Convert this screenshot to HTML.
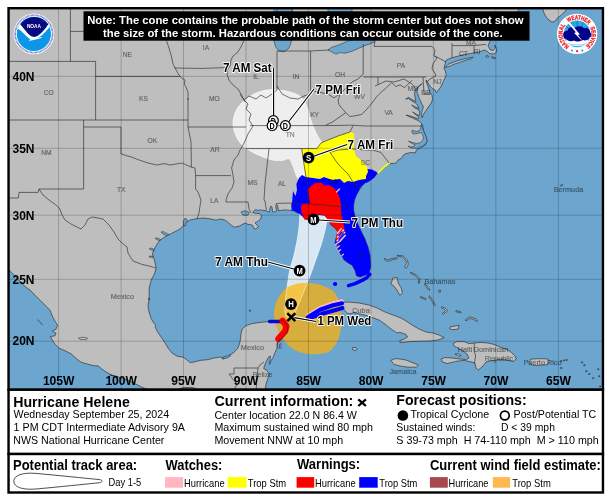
<!DOCTYPE html><html><head><meta charset="utf-8"><title>Hurricane Helene</title>
<style>html,body{margin:0;padding:0;background:#fff}svg{display:block;will-change:transform}text{font-family:"Liberation Sans",sans-serif}</style></head><body>
<svg width="610" height="501" viewBox="0 0 610 501">
<rect width="610" height="501" fill="#fff"/>
<defs><clipPath id="mapclip"><rect x="8.5" y="8.2" width="594.4" height="381.5"/></clipPath></defs>
<g clip-path="url(#mapclip)">
<rect x="8" y="8" width="596" height="383" fill="#6ca5ce"/>
<path d="M6.0 6.0 L521.0 6.0 L516.0 14.0 L507.0 23.0 L499.0 31.0 L493.0 37.0 L489.5 42.0 L488.0 46.0 L490.0 49.5 L493.0 50.5 L495.3 48.3 L494.8 45.2 L496.6 48.5 L496.3 52.5 L493.5 54.0 L489.5 53.5 L487.5 51.5 L485.0 50.3 L484.0 50.0 L481.0 51.2 L478.0 52.4 L472.0 53.2 L466.0 54.2 L460.0 55.6 L454.0 57.2 L449.0 58.8 L446.0 60.4 L445.2 63.6 L444.4 66.4 L444.0 69.0 L445.2 70.4 L446.2 75.0 L444.4 79.0 L443.0 82.4 L440.4 87.6 L436.4 92.6 L435.9 92.2 L435.3 90.1 L432.3 88.5 L429.9 86.1 L427.8 82.6 L426.4 80.0 L426.0 81.0 L427.3 84.4 L428.5 87.9 L429.9 92.7 L432.1 95.4 L432.5 99.9 L430.6 104.1 L428.2 107.1 L425.8 110.7 L423.4 114.3 L422.0 117.6 L421.5 114.3 L422.2 110.7 L423.4 107.1 L422.2 104.7 L421.1 102.3 L419.4 98.7 L418.2 95.1 L417.0 91.5 L417.9 87.9 L419.4 85.6 L422.2 83.5 L421.1 84.7 L418.9 86.1 L416.3 88.3 L415.1 90.6 L414.5 93.9 L415.3 98.7 L416.0 101.6 L412.0 99.5 L408.4 97.4 L405.7 99.1 L408.6 98.6 L412.0 101.0 L416.7 104.0 L417.9 105.9 L418.8 108.5 L414.4 106.4 L411.7 105.0 L414.6 107.8 L419.1 110.2 L419.7 113.1 L419.1 115.8 L414.4 112.9 L412.7 111.9 L414.8 114.1 L418.9 117.1 L418.2 119.0 L412.0 116.5 L406.0 115.1 L412.0 117.7 L419.1 121.0 L419.9 121.8 L422.2 124.4 L422.6 126.0 L424.0 132.0 L426.0 137.0 L427.2 141.0 L425.2 145.0 L420.4 148.0 L416.4 150.0 L415.2 153.0 L411.2 152.4 L406.0 153.6 L403.2 155.2 L401.2 158.4 L398.0 160.2 L396.0 163.2 L390.0 163.6 L385.2 166.2 L381.2 170.0 L378.0 173.2 L374.0 177.0 L370.0 180.0 L366.0 182.4 L366.0 182.2 L360.1 187.6 L359.3 190.0 L356.5 195.0 L354.5 200.0 L353.6 205.0 L353.6 210.0 L354.6 215.0 L357.4 223.0 L361.0 231.0 L365.0 239.0 L368.0 247.0 L370.0 255.0 L370.6 263.0 L370.6 267.0 L369.8 270.4 L368.6 273.6 L365.0 275.2 L360.2 277.0 L356.6 276.0 L355.0 270.4 L352.2 265.2 L348.2 263.0 L344.2 260.0 L343.5 259.0 L342.0 256.0 L340.0 253.0 L339.0 250.0 L336.5 248.0 L337.5 245.0 L335.0 244.0 L335.5 240.0 L337.0 235.0 L337.5 231.5 L335.0 228.0 L331.0 225.0 L328.0 219.5 L324.5 215.5 L316.6 214.8 L309.7 219.4 L304.8 219.6 L303.5 217.4 L299.8 213.9 L293.5 210.8 L288.5 210.2 L284.7 209.9 L280.1 210.5 L278.4 210.6 L277.8 206.5 L276.4 203.8 L275.7 206.5 L276.7 211.0 L273.2 212.2 L272.6 212.0 L272.1 207.6 L270.9 205.9 L270.0 208.2 L269.5 212.2 L265.2 210.6 L261.7 210.2 L259.4 209.9 L257.7 210.6 L256.0 209.4 L254.3 210.5 L252.6 212.2 L255.0 213.3 L259.4 213.5 L261.7 215.7 L260.6 219.0 L257.5 221.5 L255.0 223.0 L257.0 225.0 L258.5 226.8 L255.6 229.0 L253.7 228.3 L252.6 225.4 L250.5 224.6 L248.0 224.4 L245.2 223.0 L242.0 224.6 L239.2 226.2 L234.4 227.2 L231.2 225.2 L228.0 222.4 L224.4 219.8 L220.0 219.0 L216.0 220.2 L210.0 218.8 L203.2 218.0 L197.2 218.6 L190.0 220.0 L187.2 222.0 L185.6 219.2 L184.0 220.0 L184.8 221.6 L183.0 226.6 L178.0 230.2 L172.0 233.2 L166.0 236.2 L160.0 240.2 L157.0 244.2 L154.2 249.2 L152.4 254.0 L154.4 260.0 L156.2 268.0 L154.4 274.0 L151.2 280.0 L149.2 288.0 L149.0 300.0 L149.2 298.0 L148.0 306.0 L149.0 312.0 L151.0 318.0 L153.0 322.0 L155.6 325.2 L155.2 327.2 L157.2 331.2 L161.2 337.2 L165.2 343.2 L168.2 348.2 L172.2 353.2 L177.2 356.2 L183.2 357.2 L187.2 360.2 L190.2 362.6 L194.2 362.0 L200.2 360.4 L208.2 359.6 L214.2 358.0 L220.2 357.0 L223.2 359.2 L227.2 357.0 L232.0 353.6 L234.0 352.4 L238.0 348.0 L240.0 342.0 L241.0 334.0 L242.2 329.0 L246.0 325.6 L252.0 323.6 L260.0 322.4 L268.0 321.6 L276.0 321.0 L282.0 320.0 L286.0 323.0 L288.0 327.2 L287.0 332.0 L284.0 336.2 L280.0 340.0 L277.2 343.0 L277.2 348.0 L275.2 352.2 L273.2 357.2 L271.2 360.4 L269.6 364.4 L270.4 356.0 L268.4 357.2 L266.0 362.0 L263.6 368.4 L266.8 370.4 L269.0 373.2 L268.0 378.2 L266.0 384.2 L264.8 392.0 L264.0 396.0 L196.0 396.0 L196.0 388.5 L192.0 387.5 L184.0 387.5 L180.0 388.5 L180.0 396.0 L147.0 396.0 L147.0 389.2 L142.0 387.2 L136.0 384.2 L130.0 381.2 L122.0 378.2 L116.0 376.2 L110.0 375.0 L118.0 377.2 L112.0 375.2 L107.0 372.6 L102.0 369.2 L98.0 365.8 L94.0 365.8 L88.0 364.2 L81.0 362.2 L77.0 359.2 L71.0 353.8 L66.0 351.2 L59.0 348.2 L55.0 344.2 L52.4 340.2 L50.4 336.6 L55.0 335.8 L56.0 333.2 L52.4 331.2 L56.0 329.2 L57.6 325.2 L55.0 321.2 L52.4 316.2 L50.0 310.2 L46.0 306.2 L41.0 301.2 L35.0 295.2 L30.0 290.0 L27.0 288.0 L22.0 284.0 L17.0 278.0 L12.0 273.2 L9.0 270.0 L6.0 268.0 L6.0 6.0Z" fill="#bebebe" stroke="#222" stroke-width="0.6" stroke-linejoin="round"/>
<path d="M542.0 6.0 L543.6 12.0 L545.2 15.6 L548.0 19.2 L552.0 22.2 L555.2 21.2 L557.2 18.2 L561.2 15.2 L565.2 11.2 L567.6 6.0Z" fill="#bebebe" stroke="#222" stroke-width="0.6" stroke-linejoin="round"/>
<path d="M445.0 67.4 L448.0 64.4 L456.0 61.2 L466.0 58.4 L473.2 57.2 L471.6 58.6 L466.0 60.2 L458.4 62.8 L454.0 64.2 L449.0 66.6Z" fill="#bebebe" stroke="#222" stroke-width="0.6" stroke-linejoin="round"/>
<path d="M485.6 56.0 L488.0 55.6 L488.8 56.8 L486.4 57.4Z" fill="#bebebe" stroke="#222" stroke-width="0.6" stroke-linejoin="round"/>
<path d="M491.6 56.8 L495.2 57.6 L495.6 58.6 L492.0 58.0Z" fill="#bebebe" stroke="#222" stroke-width="0.6" stroke-linejoin="round"/>
<path d="M310.0 314.4 L317.0 311.0 L325.0 308.0 L333.0 305.2 L341.0 302.6 L349.0 302.0 L359.0 303.0 L369.0 305.0 L377.0 308.0 L385.0 312.0 L393.0 315.0 L401.0 318.0 L406.0 321.0 L412.0 325.0 L419.0 329.0 L426.0 332.0 L433.0 333.0 L439.0 335.0 L444.2 337.6 L438.0 340.0 L430.0 341.0 L420.0 341.2 L410.0 341.6 L400.0 342.6 L400.0 340.4 L403.0 339.6 L407.6 337.0 L406.0 334.4 L400.0 332.4 L397.0 333.0 L391.0 329.0 L385.0 324.0 L379.0 320.0 L371.0 317.0 L365.0 315.0 L359.0 314.0 L354.0 312.4 L350.6 313.6 L348.0 313.6 L345.0 311.0 L343.4 308.8 L342.2 308.0 L335.0 309.6 L329.0 311.2 L322.0 313.2 L316.0 314.4Z" fill="#bebebe" stroke="#222" stroke-width="0.6" stroke-linejoin="round"/>
<path d="M352.0 348.0 L355.0 347.4 L357.4 348.6 L356.0 350.4 L353.0 350.0Z" fill="#bebebe" stroke="#222" stroke-width="0.6" stroke-linejoin="round"/>
<path d="M390.8 360.4 L395.0 358.6 L400.0 359.0 L406.0 360.0 L412.0 362.4 L418.4 365.0 L416.4 367.2 L408.0 367.2 L400.0 366.0 L394.0 364.4Z" fill="#bebebe" stroke="#222" stroke-width="0.6" stroke-linejoin="round"/>
<path d="M453.0 343.6 L457.0 341.6 L464.0 341.6 L469.0 343.6 L475.0 343.0 L480.0 342.4 L488.0 343.0 L494.0 344.4 L500.0 347.0 L506.0 349.0 L511.0 352.0 L515.0 356.0 L516.2 359.0 L513.2 361.6 L508.0 360.4 L502.0 359.0 L496.0 360.0 L490.0 361.0 L486.0 362.0 L482.0 367.0 L478.2 370.0 L476.0 368.0 L475.0 363.0 L470.0 361.6 L464.0 360.4 L458.0 361.0 L452.0 362.4 L447.0 363.6 L442.0 361.6 L441.0 359.0 L445.0 357.6 L452.0 358.0 L460.0 359.0 L466.0 359.6 L469.0 358.0 L467.0 354.0 L463.0 351.0 L458.0 348.0 L454.0 346.0Z" fill="#bebebe" stroke="#222" stroke-width="0.6" stroke-linejoin="round"/>
<path d="M455.0 354.0 L458.0 353.6 L461.2 355.6 L459.0 356.4Z" fill="#bebebe" stroke="#222" stroke-width="0.6" stroke-linejoin="round"/>
<path d="M530.4 359.2 L539.0 358.6 L548.0 359.0 L549.2 361.6 L547.2 364.8 L538.0 365.4 L531.2 365.0 L529.8 362.0Z" fill="#bebebe" stroke="#222" stroke-width="0.6" stroke-linejoin="round"/>
<path d="M384.0 258.4 L388.0 260.0 L392.0 258.4 L397.2 257.8 L396.8 258.8 L392.4 259.6 L388.4 261.2 L386.0 261.0Z" fill="#bebebe" stroke="#222" stroke-width="0.6" stroke-linejoin="round"/>
<path d="M397.0 255.4 L403.0 255.8 L407.2 260.0 L408.4 264.0 L406.4 268.2 L404.4 267.2 L406.6 263.6 L405.8 260.4 L402.4 257.0 L397.6 256.2Z" fill="#bebebe" stroke="#222" stroke-width="0.6" stroke-linejoin="round"/>
<path d="M393.0 278.0 L397.2 277.6 L398.2 283.0 L401.2 288.0 L402.4 293.2 L399.8 295.2 L397.0 290.0 L394.0 286.2 L390.8 284.0 L392.0 281.0Z" fill="#bebebe" stroke="#222" stroke-width="0.6" stroke-linejoin="round"/>
<path d="M410.8 272.2 L416.0 274.8 L420.0 279.0 L419.2 283.4 L418.2 283.2 L418.8 279.4 L415.4 275.8 L410.4 273.0Z" fill="#bebebe" stroke="#222" stroke-width="0.6" stroke-linejoin="round"/>
<path d="M424.8 283.4 L428.2 287.6 L430.0 290.0 L429.0 290.4 L427.0 288.0 L424.2 284.0Z" fill="#bebebe" stroke="#222" stroke-width="0.6" stroke-linejoin="round"/>
<path d="M429.6 295.8 L433.2 300.8 L435.4 305.2 L434.4 305.6 L432.0 301.2 L428.8 296.4Z" fill="#bebebe" stroke="#222" stroke-width="0.6" stroke-linejoin="round"/>
<path d="M420.6 296.6 L426.0 298.6 L425.6 299.6 L420.4 297.6Z" fill="#bebebe" stroke="#222" stroke-width="0.6" stroke-linejoin="round"/>
<path d="M441.6 306.6 L446.0 308.6 L447.6 310.8 L443.2 314.4 L442.2 313.6 L445.6 310.8 L444.0 309.0 L441.2 307.6Z" fill="#bebebe" stroke="#222" stroke-width="0.6" stroke-linejoin="round"/>
<path d="M456.0 310.6 L461.2 312.0 L460.8 313.0 L455.8 311.6Z" fill="#bebebe" stroke="#222" stroke-width="0.6" stroke-linejoin="round"/>
<path d="M465.0 320.0 L470.0 316.8 L476.0 318.8 L477.4 321.2 L476.0 321.0 L474.0 319.6 L470.0 318.4 L466.0 320.8Z" fill="#bebebe" stroke="#222" stroke-width="0.6" stroke-linejoin="round"/>
<path d="M450.0 327.0 L455.0 326.0 L459.2 325.4 L458.2 329.0 L452.0 329.8 L449.6 328.6Z" fill="#bebebe" stroke="#222" stroke-width="0.6" stroke-linejoin="round"/>
<path d="M438.8 290.2 L440.4 290.2 L440.4 292.0 L438.8 292.0Z" fill="#bebebe" stroke="#222" stroke-width="0.6" stroke-linejoin="round"/>
<path d="M249.3 310.2 L250.5 310.0 L250.7 311.2 L249.5 311.4Z" fill="#bebebe" stroke="#222" stroke-width="0.6" stroke-linejoin="round"/>
<path d="M279.6 344.4 L281.2 343.6 L280.8 348.0 L279.2 348.4Z" fill="#bebebe" stroke="#222" stroke-width="0.6" stroke-linejoin="round"/>
<path d="M560.2 185.6 L562.6 184.2 L563.0 184.9 L560.8 186.2Z" fill="#bebebe" stroke="#222" stroke-width="0.6" stroke-linejoin="round"/>
<path d="M560.3 360.6 L561.7 360.5 L561.8 361.4 L560.4 361.5Z" fill="#bebebe" stroke="#222" stroke-width="0.6" stroke-linejoin="round"/>
<path d="M563.3 360.0 L564.7 359.9 L564.8 360.8 L563.4 360.9Z" fill="#bebebe" stroke="#222" stroke-width="0.6" stroke-linejoin="round"/>
<path d="M565.9 359.6 L567.3 359.5 L567.4 360.4 L566.0 360.5Z" fill="#bebebe" stroke="#222" stroke-width="0.6" stroke-linejoin="round"/>
<path d="M560.5 367.6 L561.9 367.5 L562.0 368.4 L560.6 368.5Z" fill="#bebebe" stroke="#222" stroke-width="0.6" stroke-linejoin="round"/>
<path d="M581.3 362.0 L582.7 361.9 L582.8 362.8 L581.4 362.9Z" fill="#bebebe" stroke="#222" stroke-width="0.6" stroke-linejoin="round"/>
<path d="M583.7 364.8 L585.1 364.7 L585.2 365.6 L583.8 365.7Z" fill="#bebebe" stroke="#222" stroke-width="0.6" stroke-linejoin="round"/>
<path d="M585.7 370.8 L587.1 370.7 L587.2 371.6 L585.8 371.7Z" fill="#bebebe" stroke="#222" stroke-width="0.6" stroke-linejoin="round"/>
<path d="M588.5 373.6 L589.9 373.5 L590.0 374.4 L588.6 374.5Z" fill="#bebebe" stroke="#222" stroke-width="0.6" stroke-linejoin="round"/>
<path d="M592.5 377.8 L593.9 377.7 L594.0 378.6 L592.6 378.7Z" fill="#bebebe" stroke="#222" stroke-width="0.6" stroke-linejoin="round"/>
<path d="M597.5 368.8 L598.9 368.7 L599.0 369.6 L597.6 369.7Z" fill="#bebebe" stroke="#222" stroke-width="0.6" stroke-linejoin="round"/>
<path d="M598.5 375.8 L599.9 375.7 L600.0 376.6 L598.6 376.7Z" fill="#bebebe" stroke="#222" stroke-width="0.6" stroke-linejoin="round"/>
<path d="M599.5 386.0 L600.9 385.9 L601.0 386.8 L599.6 386.9Z" fill="#bebebe" stroke="#222" stroke-width="0.6" stroke-linejoin="round"/>
<path d="M274.0 4.0 L274.0 41.0 L275.6 47.0 L279.0 51.0 L284.0 51.8 L289.0 48.2 L291.6 41.0 L293.0 30.0 L292.0 4.0Z" fill="#6ca5ce" stroke="#222" stroke-width="0.5" stroke-linejoin="round"/>
<path d="M328.0 49.8 L332.0 47.2 L338.0 45.2 L348.0 41.0 L356.0 39.0 L364.0 38.0 L372.0 39.0 L375.2 41.4 L372.0 43.2 L366.0 45.2 L359.0 48.2 L352.0 51.2 L345.0 53.2 L340.0 52.6 L336.0 54.2 L333.0 52.6 L329.0 50.6Z" fill="#6ca5ce" stroke="#222" stroke-width="0.5" stroke-linejoin="round"/>
<path d="M328.0 4.0 L328.0 12.0 L352.0 12.0 L352.0 4.0Z" fill="#6ca5ce" stroke="#222" stroke-width="0.5" stroke-linejoin="round"/>
<path d="M277.0 4.0 L277.0 12.0 L292.0 12.0 L292.0 4.0Z" fill="#6ca5ce" stroke="#222" stroke-width="0.5" stroke-linejoin="round"/>
<path d="M421.6 124.5 L423.6 131.2 L426.3 137.2 L427.1 141.2 L425.5 144.0 L422.8 145.8 L419.5 147.3 L416.6 148.5 L414.5 148.2 L411.0 148.0 L408.0 146.2 L411.0 147.0 L414.0 146.5 L415.0 144.8 L412.0 143.5 L408.5 141.2 L412.5 142.5 L416.5 143.5 L419.5 143.0 L421.8 141.5 L423.0 139.5 L423.5 137.5 L422.5 134.5 L421.2 132.5 L419.0 133.0 L416.0 133.8 L413.0 134.0 L411.8 132.0 L412.2 130.2 L414.0 130.8 L416.5 131.5 L419.0 130.5 L420.5 129.0 L421.0 126.0Z" fill="#6ca5ce" stroke="#222" stroke-width="0.5" stroke-linejoin="round"/>
<path d="M241.0 212.0 L245.0 210.6 L249.2 212.4 L248.0 215.2 L243.0 215.2Z" fill="#6ca5ce" stroke="#222" stroke-width="0.5" stroke-linejoin="round"/>
<path d="M184.2 226.2 L183.2 221.6 L184.8 218.4 L186.8 219.2 L187.6 221.2 L185.6 222.4 L186.0 225.2Z" fill="#6ca5ce" stroke="#222" stroke-width="0.5" stroke-linejoin="round"/>
<path d="M166.8 235.8 L163.0 234.0 L161.0 232.0 L163.6 231.6 L166.0 233.2 L168.8 234.4Z" fill="#6ca5ce" stroke="#222" stroke-width="0.5" stroke-linejoin="round"/>
<path d="M159.8 240.6 L156.4 239.6 L155.2 238.0 L157.6 238.0 L160.4 239.4Z" fill="#6ca5ce" stroke="#222" stroke-width="0.5" stroke-linejoin="round"/>
<path d="M154.2 249.2 L150.4 248.0 L149.2 248.8 L151.2 250.0 L153.8 250.8Z" fill="#6ca5ce" stroke="#222" stroke-width="0.5" stroke-linejoin="round"/>
<path d="M153.0 256.4 L149.6 256.0 L149.2 257.0 L152.6 257.6Z" fill="#6ca5ce" stroke="#222" stroke-width="0.5" stroke-linejoin="round"/>
<path d="M222.0 357.6 L224.8 356.4 L228.0 356.0 L230.0 354.4 L230.8 355.6 L228.0 357.6 L224.4 358.6Z" fill="#6ca5ce" stroke="#222" stroke-width="0.5" stroke-linejoin="round"/>
<path d="M339.6 245.0 L341.6 243.4 L342.8 245.0 L342.0 247.4 L340.4 247.0Z" fill="#6ca5ce" stroke="#222" stroke-width="0.5" stroke-linejoin="round"/>
<path d="M303.0 283.0 C306.5 282.8 311.2 282.8 315.0 283.5 C318.8 284.2 322.7 285.4 326.0 287.0 C329.3 288.6 332.7 290.2 335.0 293.0 C337.3 295.8 338.9 300.2 340.0 304.0 C341.1 307.8 341.3 312.0 341.5 316.0 C341.7 320.0 341.6 324.0 341.0 328.0 C340.4 332.0 339.3 336.7 338.0 340.0 C336.7 343.3 334.8 345.9 333.0 348.0 C331.2 350.1 329.5 351.5 327.0 352.5 C324.5 353.5 321.2 353.8 318.0 354.0 C314.8 354.2 311.3 354.4 308.0 354.0 C304.7 353.6 301.0 352.7 298.0 351.5 C295.0 350.3 292.3 348.9 290.0 347.0 C287.7 345.1 285.8 342.5 284.0 340.0 C282.2 337.5 280.4 334.7 279.0 332.0 C277.6 329.3 276.3 326.7 275.5 324.0 C274.7 321.3 274.2 318.7 274.0 316.0 C273.8 313.3 274.0 310.7 274.5 308.0 C275.0 305.3 275.9 302.4 277.0 300.0 C278.1 297.6 279.5 295.4 281.0 293.5 C282.5 291.6 283.8 290.0 286.0 288.5 C288.2 287.0 291.2 285.4 294.0 284.5 C296.8 283.6 299.5 283.2 303.0 283.0Z" fill="#d6ae3e"/>
<clipPath id="windclip"><path d="M303.0 283.0 C306.5 282.8 311.2 282.8 315.0 283.5 C318.8 284.2 322.7 285.4 326.0 287.0 C329.3 288.6 332.7 290.2 335.0 293.0 C337.3 295.8 338.9 300.2 340.0 304.0 C341.1 307.8 341.3 312.0 341.5 316.0 C341.7 320.0 341.6 324.0 341.0 328.0 C340.4 332.0 339.3 336.7 338.0 340.0 C336.7 343.3 334.8 345.9 333.0 348.0 C331.2 350.1 329.5 351.5 327.0 352.5 C324.5 353.5 321.2 353.8 318.0 354.0 C314.8 354.2 311.3 354.4 308.0 354.0 C304.7 353.6 301.0 352.7 298.0 351.5 C295.0 350.3 292.3 348.9 290.0 347.0 C287.7 345.1 285.8 342.5 284.0 340.0 C282.2 337.5 280.4 334.7 279.0 332.0 C277.6 329.3 276.3 326.7 275.5 324.0 C274.7 321.3 274.2 318.7 274.0 316.0 C273.8 313.3 274.0 310.7 274.5 308.0 C275.0 305.3 275.9 302.4 277.0 300.0 C278.1 297.6 279.5 295.4 281.0 293.5 C282.5 291.6 283.8 290.0 286.0 288.5 C288.2 287.0 291.2 285.4 294.0 284.5 C296.8 283.6 299.5 283.2 303.0 283.0Z"/></clipPath>
<path d="M274.0 89.6 C277.8 89.7 283.2 90.5 287.0 91.3 C290.8 92.1 294.2 93.1 297.0 94.5 C299.8 95.9 301.8 97.2 303.5 99.5 C305.2 101.8 306.3 104.8 307.5 108.0 C308.7 111.2 309.4 115.5 310.5 119.0 C311.6 122.5 313.1 126.1 314.3 129.0 C315.6 131.9 316.7 134.1 318.0 136.5 C319.3 138.9 320.9 140.4 322.0 143.5 C323.1 146.6 323.8 148.1 324.5 155.0 C325.2 161.9 326.1 174.5 326.5 185.0 C326.9 195.5 327.7 208.8 327.0 218.0 C326.3 227.2 324.2 233.5 322.5 240.0 C320.8 246.5 318.9 251.0 316.8 257.0 C314.7 263.0 311.8 271.2 310.0 276.0 C308.2 280.8 307.4 282.5 306.0 286.0 C304.6 289.5 303.1 293.2 301.5 297.0 C299.9 300.8 297.9 305.8 296.5 309.0 C295.1 312.2 294.2 314.9 293.0 316.5 C291.8 318.1 290.2 318.8 289.0 318.5 C287.8 318.2 286.2 317.2 285.6 315.0 C285.0 312.8 285.1 308.3 285.2 305.0 C285.3 301.7 285.8 298.3 286.2 295.0 C286.6 291.7 286.8 289.2 287.4 285.0 C288.0 280.8 288.7 275.0 289.8 270.0 C290.9 265.0 292.6 260.8 294.0 255.0 C295.4 249.2 297.0 241.7 298.0 235.0 C299.0 228.3 299.6 223.5 299.8 215.0 C300.0 206.5 299.6 190.7 299.0 184.0 C298.4 177.3 297.1 178.2 296.0 175.0 C294.9 171.8 293.7 167.7 292.5 165.0 C291.3 162.3 290.8 159.6 289.0 158.8 C287.2 158.1 284.8 160.3 282.0 160.5 C279.2 160.7 275.8 160.7 272.5 160.0 C269.2 159.3 265.1 157.7 262.0 156.5 C258.9 155.3 256.8 154.5 254.0 153.0 C251.2 151.5 247.7 149.7 245.0 147.5 C242.3 145.3 239.8 142.9 238.0 140.0 C236.2 137.1 234.8 133.0 234.0 130.0 C233.2 127.0 232.8 124.8 233.0 122.0 C233.2 119.2 234.0 115.7 235.0 113.0 C236.0 110.3 237.3 108.2 239.0 106.0 C240.7 103.8 242.5 102.0 245.0 100.0 C247.5 98.0 250.8 95.6 254.0 94.0 C257.2 92.4 260.7 91.2 264.0 90.5 C267.3 89.8 270.2 89.5 274.0 89.6Z" fill="#fff" fill-opacity="0.74" stroke="#fff" stroke-opacity="0.9" stroke-width="0.7"/>
<path d="M274.0 89.6 C277.8 89.7 283.2 90.5 287.0 91.3 C290.8 92.1 294.2 93.1 297.0 94.5 C299.8 95.9 301.8 97.2 303.5 99.5 C305.2 101.8 306.3 104.8 307.5 108.0 C308.7 111.2 309.4 115.5 310.5 119.0 C311.6 122.5 313.1 126.1 314.3 129.0 C315.6 131.9 316.7 134.1 318.0 136.5 C319.3 138.9 320.9 140.4 322.0 143.5 C323.1 146.6 323.8 148.1 324.5 155.0 C325.2 161.9 326.1 174.5 326.5 185.0 C326.9 195.5 327.7 208.8 327.0 218.0 C326.3 227.2 324.2 233.5 322.5 240.0 C320.8 246.5 318.9 251.0 316.8 257.0 C314.7 263.0 311.8 271.2 310.0 276.0 C308.2 280.8 307.4 282.5 306.0 286.0 C304.6 289.5 303.1 293.2 301.5 297.0 C299.9 300.8 297.9 305.8 296.5 309.0 C295.1 312.2 294.2 314.9 293.0 316.5 C291.8 318.1 290.2 318.8 289.0 318.5 C287.8 318.2 286.2 317.2 285.6 315.0 C285.0 312.8 285.1 308.3 285.2 305.0 C285.3 301.7 285.8 298.3 286.2 295.0 C286.6 291.7 286.8 289.2 287.4 285.0 C288.0 280.8 288.7 275.0 289.8 270.0 C290.9 265.0 292.6 260.8 294.0 255.0 C295.4 249.2 297.0 241.7 298.0 235.0 C299.0 228.3 299.6 223.5 299.8 215.0 C300.0 206.5 299.6 190.7 299.0 184.0 C298.4 177.3 297.1 178.2 296.0 175.0 C294.9 171.8 293.7 167.7 292.5 165.0 C291.3 162.3 290.8 159.6 289.0 158.8 C287.2 158.1 284.8 160.3 282.0 160.5 C279.2 160.7 275.8 160.7 272.5 160.0 C269.2 159.3 265.1 157.7 262.0 156.5 C258.9 155.3 256.8 154.5 254.0 153.0 C251.2 151.5 247.7 149.7 245.0 147.5 C242.3 145.3 239.8 142.9 238.0 140.0 C236.2 137.1 234.8 133.0 234.0 130.0 C233.2 127.0 232.8 124.8 233.0 122.0 C233.2 119.2 234.0 115.7 235.0 113.0 C236.0 110.3 237.3 108.2 239.0 106.0 C240.7 103.8 242.5 102.0 245.0 100.0 C247.5 98.0 250.8 95.6 254.0 94.0 C257.2 92.4 260.7 91.2 264.0 90.5 C267.3 89.8 270.2 89.5 274.0 89.6Z" fill="#f3c446" stroke="#f7d987" stroke-width="0.7" clip-path="url(#windclip)"/>
<path d="M301.6 148.6 L317.0 148.6 L319.0 145.0 L321.0 143.0 L324.0 142.0 L328.0 140.0 L333.0 138.5 L338.0 136.0 L344.0 134.5 L350.0 132.0 L353.6 133.0 L354.4 140.0 L353.6 148.0 L356.0 156.0 L362.0 161.0 L367.0 167.0 L368.0 172.0 L366.0 176.0 L366.0 179.0 L359.0 180.0 L353.0 182.0 L348.0 181.0 L344.0 183.0 L340.0 179.0 L332.0 180.0 L324.0 177.0 L320.0 179.0 L313.0 178.0 L305.6 177.0Z" fill="#ffff00"/>
<path d="M302.0 175.0 L305.6 177.0 L313.0 178.0 L320.0 179.0 L324.0 177.0 L332.0 180.0 L340.0 179.0 L344.0 183.0 L348.0 181.0 L353.0 182.0 L359.0 180.0 L366.0 179.0 L366.0 176.0 L368.0 172.0 L367.5 169.0 L372.0 169.5 L377.5 172.5 L374.5 177.5 L370.5 180.5 L366.5 183.0 L366.0 182.2 L360.1 187.6 L359.3 190.0 L356.5 195.0 L354.5 200.0 L353.6 205.0 L353.6 210.0 L354.6 215.0 L357.4 223.0 L361.0 231.0 L365.0 239.0 L368.0 247.0 L370.0 255.0 L370.6 263.0 L370.6 267.0 L369.8 270.4 L368.6 273.6 L365.0 275.2 L360.2 277.0 L356.6 276.0 L355.0 270.4 L352.2 265.2 L348.2 263.0 L344.2 260.0 L343.5 259.0 L342.0 256.0 L340.0 253.0 L339.0 250.0 L336.5 248.0 L337.5 245.0 L335.0 244.0 L335.5 240.0 L337.0 235.0 L337.5 231.5 L335.0 228.0 L331.0 225.0 L328.0 219.5 L324.5 215.5 L316.6 214.8 L309.7 219.4 L304.8 219.6 L303.5 217.4 L299.8 213.9 L293.5 210.8 L291.6 210.6 L291.2 204.0 L292.0 203.0 L293.0 191.0 L295.5 196.0 L297.0 190.0 L296.4 184.0 L299.0 178.0Z" fill="#0000ff"/>
<path d="M307.5 189.0 L310.0 187.0 L315.0 183.0 L321.0 182.5 L325.0 186.0 L329.0 185.0 L334.0 188.0 L337.0 192.0 L339.5 197.0 L341.0 205.0 L341.2 213.0 L342.6 220.0 L344.0 226.0 L344.6 229.5 L340.8 236.0 L336.2 240.8 L335.5 240.0 L337.0 235.0 L337.5 231.5 L335.0 228.0 L331.0 225.0 L328.0 219.5 L324.5 215.5 L318.5 214.2 L316.6 214.8 L309.7 219.4 L304.8 219.6 L303.5 217.4 L301.5 212.0 L301.0 208.0 L302.0 204.0 L310.0 203.0 L309.0 196.0Z" fill="#ff0000"/>
<path d="M389.2 163.4 L385.2 166.0 L381.2 169.8 L378.4 172.8" fill="none" stroke="#ffff00" stroke-width="1.6" stroke-linecap="round" stroke-linejoin="round"/>
<path d="M348.5 285.6 L355.0 283.6 L362.0 280.4 L367.0 277.4 L369.8 274.2" fill="none" stroke="#0000ff" stroke-width="3.5" stroke-linecap="round" stroke-linejoin="round"/>
<path d="M335.0 284.0 L335.1 284.0" fill="none" stroke="#0000ff" stroke-width="4.2" stroke-linecap="round" stroke-linejoin="round"/>
<path d="M308.0 315.2 L320.0 307.6 L333.0 303.0 L342.0 301.1" fill="none" stroke="#ffb6c1" stroke-width="3.6" stroke-linecap="round" stroke-linejoin="round"/>
<path d="M307.8 317.2 L320.0 309.8 L333.0 305.2 L342.0 303.3" fill="none" stroke="#0000ff" stroke-width="4.2" stroke-linecap="round" stroke-linejoin="round"/>
<path d="M311.0 317.6 L322.0 313.8 L333.0 310.8 L342.5 308.0" fill="none" stroke="#0000ff" stroke-width="4.0" stroke-linecap="round" stroke-linejoin="round"/>
<path d="M269.5 321.5 L281.0 321.5" fill="none" stroke="#0000ff" stroke-width="3.3" stroke-linecap="round" stroke-linejoin="round"/>
<path d="M282.6 320.8 L286.4 326.0 L285.2 331.0 L278.4 338.8" fill="none" stroke="#ff0000" stroke-width="6.3" stroke-linecap="round" stroke-linejoin="round"/>
<path d="M337.6 233.2 L341.2 228.6" fill="none" stroke="#ffc4cc" stroke-width="1.5" stroke-linecap="round" stroke-linejoin="round"/>
<path d="M337.4 237.2 L343.6 230.0" fill="none" stroke="#ffc4cc" stroke-width="1.5" stroke-linecap="round" stroke-linejoin="round"/>
<path d="M337.0 241.0 L344.8 232.2" fill="none" stroke="#ffc4cc" stroke-width="1.5" stroke-linecap="round" stroke-linejoin="round"/>
<path d="M340.6 240.6 L345.2 235.4" fill="none" stroke="#ffc4cc" stroke-width="1.5" stroke-linecap="round" stroke-linejoin="round"/>
<path d="M338.9 235.6 L341.9 232.0" fill="none" stroke="#0000ff" stroke-width="1.2" stroke-linecap="round" stroke-linejoin="round"/>
<path d="M338.9 239.2 L343.6 233.8" fill="none" stroke="#0000ff" stroke-width="1.2" stroke-linecap="round" stroke-linejoin="round"/>
<path d="M335.6 244.6 L340.4 241.0" fill="none" stroke="#ffc4cc" stroke-width="1.3" stroke-linecap="round" stroke-linejoin="round"/>
<path d="M336.6 248.2 L339.4 245.8" fill="none" stroke="#ffc4cc" stroke-width="1.2" stroke-linecap="round" stroke-linejoin="round"/>
<path d="M339.0 251.0 L340.6 249.6" fill="none" stroke="#ffc4cc" stroke-width="1.2" stroke-linecap="round" stroke-linejoin="round"/>
<path d="M342.0 255.6 L343.4 254.2" fill="none" stroke="#ffc4cc" stroke-width="1.2" stroke-linecap="round" stroke-linejoin="round"/>
<path d="M336.5 192.0 L339.5 189.0" fill="none" stroke="#ffb6c1" stroke-width="1.4" stroke-linecap="round" stroke-linejoin="round"/>
<path d="M70.4 6.0 L70.4 61.4" fill="none" stroke="#2c2c2c" stroke-width="0.65" stroke-linejoin="round"/>
<path d="M70.4 31.4 L140.0 31.4" fill="none" stroke="#2c2c2c" stroke-width="0.65" stroke-linejoin="round"/>
<path d="M6.0 61.4 L95.6 61.4 L95.6 120.0" fill="none" stroke="#2c2c2c" stroke-width="0.65" stroke-linejoin="round"/>
<path d="M95.6 76.4 L180.0 76.4" fill="none" stroke="#2c2c2c" stroke-width="0.65" stroke-linejoin="round"/>
<path d="M95.6 120.0 L8.0 120.0" fill="none" stroke="#2c2c2c" stroke-width="0.65" stroke-linejoin="round"/>
<path d="M166.4 40.6 L169.0 48.0 L171.6 57.0 L173.0 64.0 L175.6 69.0 L179.0 75.0 L182.0 78.4 L185.0 80.0 L184.4 84.0 L186.4 88.0 L188.0 92.0 L188.0 100.0" fill="none" stroke="#2c2c2c" stroke-width="0.65" stroke-linejoin="round"/>
<path d="M174.4 68.0 L202.0 68.4 L226.0 67.6 L228.0 69.0" fill="none" stroke="#2c2c2c" stroke-width="0.65" stroke-linejoin="round"/>
<path d="M244.0 40.0 L241.0 47.0 L237.0 53.0 L233.0 56.0 L231.0 60.0 L230.0 66.0 L227.6 69.0 L227.0 74.0 L229.0 80.0 L233.0 85.0 L238.0 89.0 L241.0 94.0 L243.0 98.0 L245.0 102.0" fill="none" stroke="#2c2c2c" stroke-width="0.65" stroke-linejoin="round"/>
<path d="M95.6 120.0 L188.0 120.0" fill="none" stroke="#2c2c2c" stroke-width="0.65" stroke-linejoin="round"/>
<path d="M188.0 98.0 L188.0 127.0 L191.0 142.0 L191.4 167.0" fill="none" stroke="#2c2c2c" stroke-width="0.65" stroke-linejoin="round"/>
<path d="M188.0 127.0 L246.0 127.0" fill="none" stroke="#2c2c2c" stroke-width="0.65" stroke-linejoin="round"/>
<path d="M83.6 120.0 L83.6 189.0 L39.0 189.0" fill="none" stroke="#2c2c2c" stroke-width="0.65" stroke-linejoin="round"/>
<path d="M83.6 127.0 L121.0 127.0 L121.0 154.0" fill="none" stroke="#2c2c2c" stroke-width="0.65" stroke-linejoin="round"/>
<path d="M6.0 198.0 L18.4 198.0 L19.0 192.4 L38.0 192.4 L39.0 189.0" fill="none" stroke="#2c2c2c" stroke-width="0.65" stroke-linejoin="round"/>
<path d="M39.0 189.0 L43.0 195.0 L49.0 200.0 L56.0 205.0 L60.0 209.0 L62.0 215.0 L65.0 220.0 L71.0 224.0 L77.0 227.0 L81.0 229.0 L85.0 225.0 L88.0 219.0 L92.0 217.0 L98.0 218.0 L103.0 219.0 L109.0 225.0 L114.0 232.0 L118.0 239.0 L122.0 243.0 L127.0 247.0 L128.0 253.0 L131.0 258.0 L133.0 261.0 L142.0 264.4 L149.0 266.0 L156.0 268.0" fill="none" stroke="#2c2c2c" stroke-width="0.65" stroke-linejoin="round"/>
<path d="M121.0 154.0 L124.4 154.8 L128.0 156.2 L130.0 156.4 L138.0 159.6 L148.0 163.0 L157.0 165.0 L164.0 163.6 L170.0 165.0 L182.0 163.0 L191.0 167.0 L195.0 168.0" fill="none" stroke="#2c2c2c" stroke-width="0.65" stroke-linejoin="round"/>
<path d="M195.0 168.0 L195.6 175.0 L195.6 188.0 L195.6 189.0 L198.0 192.0 L201.0 200.0 L200.0 206.0 L199.0 213.0 L197.0 218.6" fill="none" stroke="#2c2c2c" stroke-width="0.65" stroke-linejoin="round"/>
<path d="M195.6 175.6 L231.0 175.6" fill="none" stroke="#2c2c2c" stroke-width="0.65" stroke-linejoin="round"/>
<path d="M240.0 94.0 L244.0 100.0 L248.0 104.0 L246.0 109.0 L251.0 114.0 L249.0 120.0 L253.0 126.0 L248.0 134.0 L245.0 141.0 L242.0 147.0 L240.0 150.0 L238.0 155.0 L234.0 160.0 L231.6 168.0 L233.0 175.0 L234.0 182.0 L232.0 188.0 L228.0 194.0 L226.0 200.0 L226.0 202.0 L248.0 202.0 L249.0 209.0 L251.0 213.0" fill="none" stroke="#2c2c2c" stroke-width="0.65" stroke-linejoin="round"/>
<path d="M244.0 100.0 L249.0 96.0 L256.0 99.0 L261.0 95.0 L266.0 98.0 L272.0 94.0 L277.0 90.0 L277.0 86.0 L282.0 94.0 L290.0 98.0 L298.0 99.0 L304.0 96.0 L310.0 94.0 L313.0 91.0 L320.0 92.4 L328.0 94.0 L334.0 98.0 L338.0 95.0 L340.0 94.0 L346.0 88.0 L352.0 82.0 L358.0 79.0 L363.2 74.0 L363.2 44.0" fill="none" stroke="#2c2c2c" stroke-width="0.65" stroke-linejoin="round"/>
<path d="M277.0 51.0 L277.0 86.0" fill="none" stroke="#2c2c2c" stroke-width="0.65" stroke-linejoin="round"/>
<path d="M277.0 51.0 L310.0 51.0 L329.0 50.0" fill="none" stroke="#2c2c2c" stroke-width="0.65" stroke-linejoin="round"/>
<path d="M310.6 51.0 L310.6 94.4" fill="none" stroke="#2c2c2c" stroke-width="0.65" stroke-linejoin="round"/>
<path d="M250.0 125.6 L328.0 125.6 L352.0 125.2 L366.0 126.0 L421.6 126.0" fill="none" stroke="#2c2c2c" stroke-width="0.65" stroke-linejoin="round"/>
<path d="M246.0 148.6 L317.0 148.6" fill="none" stroke="#2c2c2c" stroke-width="0.65" stroke-linejoin="round"/>
<path d="M317.0 148.6 L321.0 143.0 L328.0 140.0 L338.0 136.0 L350.0 132.0 L353.0 125.6" fill="none" stroke="#2c2c2c" stroke-width="0.65" stroke-linejoin="round"/>
<path d="M269.0 148.6 L267.0 166.0 L265.0 184.0 L264.0 200.0 L265.0 201.0 L266.4 210.0" fill="none" stroke="#2c2c2c" stroke-width="0.65" stroke-linejoin="round"/>
<path d="M301.6 148.6 L306.0 177.0 L308.4 188.0 L307.6 196.0 L308.4 204.0" fill="none" stroke="#2c2c2c" stroke-width="0.65" stroke-linejoin="round"/>
<path d="M276.6 203.4 L292.0 203.0 L308.4 204.0 L324.0 205.0 L340.0 206.6 L344.0 204.6 L348.0 206.6" fill="none" stroke="#2c2c2c" stroke-width="0.65" stroke-linejoin="round"/>
<path d="M330.0 152.4 L338.0 164.0 L348.0 174.0 L353.0 182.0 L360.0 188.0 L362.0 188.0" fill="none" stroke="#2c2c2c" stroke-width="0.65" stroke-linejoin="round"/>
<path d="M330.0 152.4 L338.0 150.0 L352.0 149.0 L366.0 150.0 L372.0 150.0 L381.0 152.4 L389.0 163.0" fill="none" stroke="#2c2c2c" stroke-width="0.65" stroke-linejoin="round"/>
<path d="M325.4 125.3 L332.2 122.2 L339.0 117.4 L345.7 112.7" fill="none" stroke="#2c2c2c" stroke-width="0.65" stroke-linejoin="round"/>
<path d="M345.7 112.7 L343.2 109.8 L339.0 104.7 L338.1 100.5 L339.8 95.0" fill="none" stroke="#2c2c2c" stroke-width="0.65" stroke-linejoin="round"/>
<path d="M345.7 112.7 L350.0 116.6 L355.9 115.7 L361.9 114.4 L367.0 109.0 L372.1 103.0 L376.3 97.1 L382.2 91.1 L385.6 88.6 L391.6 82.6 L395.8 86.5 L400.1 84.8 L404.3 87.7 L408.9 83.5 L412.0 80.1" fill="none" stroke="#2c2c2c" stroke-width="0.65" stroke-linejoin="round"/>
<path d="M363.2 77.0 L426.0 77.0" fill="none" stroke="#2c2c2c" stroke-width="0.65" stroke-linejoin="round"/>
<path d="M375.0 41.4 L374.0 46.4 L432.0 46.4 L435.0 50.0 L434.0 56.0 L437.0 58.0 L433.0 64.0 L432.0 69.0 L435.0 73.0 L436.0 76.0 L430.0 79.0 L427.0 82.0" fill="none" stroke="#2c2c2c" stroke-width="0.65" stroke-linejoin="round"/>
<path d="M435.0 56.0 L446.0 62.0" fill="none" stroke="#2c2c2c" stroke-width="0.65" stroke-linejoin="round"/>
<path d="M452.0 43.0 L452.0 58.0" fill="none" stroke="#2c2c2c" stroke-width="0.65" stroke-linejoin="round"/>
<path d="M452.0 45.6 L474.0 45.6 L486.0 44.4" fill="none" stroke="#2c2c2c" stroke-width="0.65" stroke-linejoin="round"/>
<path d="M474.0 45.6 L474.0 53.6" fill="none" stroke="#2c2c2c" stroke-width="0.65" stroke-linejoin="round"/>
<path d="M423.0 77.0 L424.0 94.0 L430.0 94.0" fill="none" stroke="#2c2c2c" stroke-width="0.65" stroke-linejoin="round"/>
<path d="M375.0 86.0 L386.0 81.0 L394.0 82.0 L404.0 79.0 L412.0 84.0 L416.0 89.0" fill="none" stroke="#2c2c2c" stroke-width="0.65" stroke-linejoin="round"/>
<path d="M378.0 77.0 L378.0 85.0" fill="none" stroke="#2c2c2c" stroke-width="0.65" stroke-linejoin="round"/>
<path d="M258.0 368.0 L234.0 368.0 L234.0 374.0 L229.0 374.0 L232.0 378.0 L237.0 384.0 L234.0 390.0" fill="none" stroke="#2c2c2c" stroke-width="0.65" stroke-linejoin="round"/>
<path d="M264.0 362.0 L260.0 365.0 L258.0 368.0 L257.0 378.0 L256.0 392.0" fill="none" stroke="#2c2c2c" stroke-width="0.65" stroke-linejoin="round"/>
<path d="M474.4 343.2 L474.0 350.0 L475.6 356.0 L474.4 363.0" fill="none" stroke="#2c2c2c" stroke-width="0.65" stroke-linejoin="round"/>
<path d="M37.2 319.6 L40.0 322.0 L42.8 325.2" fill="none" stroke="#2c2c2c" stroke-width="0.65" stroke-linejoin="round"/>
<path d="M359.0 253.0 L361.8 252.2 L363.8 254.6 L363.0 257.4 L360.2 257.8 L358.2 255.8Z" fill="none" stroke="#222" stroke-width="0.5" stroke-linejoin="round"/>
<path d="M78.4 338.0 L83.0 337.2 L87.6 338.0 L86.4 339.6 L80.0 339.6Z" fill="none" stroke="#222" stroke-width="0.5" stroke-linejoin="round"/>
<path d="M268.0 321.6 L276.0 321.0 L282.0 320.0 L286.0 323.0 L288.0 327.2 L287.0 332.0 L284.0 336.2 L280.0 340.0 L277.2 343.0 L277.2 348.0" fill="none" stroke="#222" stroke-width="0.5" stroke-linejoin="round"/>
<line x1="58.6" y1="8" x2="58.6" y2="390" stroke="#000" stroke-opacity="0.36" stroke-width="0.55"/>
<line x1="121.1" y1="8" x2="121.1" y2="390" stroke="#000" stroke-opacity="0.36" stroke-width="0.55"/>
<line x1="183.5" y1="8" x2="183.5" y2="390" stroke="#000" stroke-opacity="0.36" stroke-width="0.55"/>
<line x1="246.0" y1="8" x2="246.0" y2="390" stroke="#000" stroke-opacity="0.36" stroke-width="0.55"/>
<line x1="308.5" y1="8" x2="308.5" y2="390" stroke="#000" stroke-opacity="0.36" stroke-width="0.55"/>
<line x1="371.0" y1="8" x2="371.0" y2="390" stroke="#000" stroke-opacity="0.36" stroke-width="0.55"/>
<line x1="433.4" y1="8" x2="433.4" y2="390" stroke="#000" stroke-opacity="0.36" stroke-width="0.55"/>
<line x1="495.9" y1="8" x2="495.9" y2="390" stroke="#000" stroke-opacity="0.36" stroke-width="0.55"/>
<line x1="558.4" y1="8" x2="558.4" y2="390" stroke="#000" stroke-opacity="0.36" stroke-width="0.55"/>
<line x1="8" y1="76.3" x2="604" y2="76.3" stroke="#000" stroke-opacity="0.36" stroke-width="0.55"/>
<line x1="8" y1="148.3" x2="604" y2="148.3" stroke="#000" stroke-opacity="0.36" stroke-width="0.55"/>
<line x1="8" y1="215.2" x2="604" y2="215.2" stroke="#000" stroke-opacity="0.36" stroke-width="0.55"/>
<line x1="8" y1="279.3" x2="604" y2="279.3" stroke="#000" stroke-opacity="0.36" stroke-width="0.55"/>
<line x1="8" y1="341.2" x2="604" y2="341.2" stroke="#000" stroke-opacity="0.36" stroke-width="0.55"/>
<text x="48.8" y="94.5" font-size="6.7" fill="#000" stroke="#000" stroke-width="0.2" opacity="0.47" text-anchor="middle">CO</text>
<text x="127.4" y="57.0" font-size="6.7" fill="#000" stroke="#000" stroke-width="0.2" opacity="0.47" text-anchor="middle">NE</text>
<text x="206.0" y="50.0" font-size="6.7" fill="#000" stroke="#000" stroke-width="0.2" opacity="0.47" text-anchor="middle">IA</text>
<text x="143.4" y="101.0" font-size="6.7" fill="#000" stroke="#000" stroke-width="0.2" opacity="0.47" text-anchor="middle">KS</text>
<text x="214.4" y="101.0" font-size="6.7" fill="#000" stroke="#000" stroke-width="0.2" opacity="0.47" text-anchor="middle">MO</text>
<text x="256.0" y="78.5" font-size="6.7" fill="#000" stroke="#000" stroke-width="0.2" opacity="0.47" text-anchor="middle">IL</text>
<text x="296.0" y="79.0" font-size="6.7" fill="#000" stroke="#000" stroke-width="0.2" opacity="0.47" text-anchor="middle">IN</text>
<text x="340.0" y="77.0" font-size="6.7" fill="#000" stroke="#000" stroke-width="0.2" opacity="0.47" text-anchor="middle">OH</text>
<text x="401.0" y="68.0" font-size="6.7" fill="#000" stroke="#000" stroke-width="0.2" opacity="0.47" text-anchor="middle">PA</text>
<text x="463.4" y="56.0" font-size="6.7" fill="#000" stroke="#000" stroke-width="0.2" opacity="0.47" text-anchor="middle">CT</text>
<text x="471.0" y="45.0" font-size="6.7" fill="#000" stroke="#000" stroke-width="0.2" opacity="0.47" text-anchor="middle">MA</text>
<text x="477.0" y="54.0" font-size="6.7" fill="#000" stroke="#000" stroke-width="0.2" opacity="0.47" text-anchor="middle">RI</text>
<text x="437.4" y="84.0" font-size="6.7" fill="#000" stroke="#000" stroke-width="0.2" opacity="0.47" text-anchor="middle">NJ</text>
<text x="413.0" y="91.0" font-size="6.7" fill="#000" stroke="#000" stroke-width="0.2" opacity="0.47" text-anchor="middle">MD</text>
<text x="426.0" y="94.5" font-size="6.7" fill="#000" stroke="#000" stroke-width="0.2" opacity="0.47" text-anchor="middle">DE</text>
<text x="359.5" y="99.0" font-size="6.7" fill="#000" stroke="#000" stroke-width="0.2" opacity="0.47" text-anchor="middle">WV</text>
<text x="388.6" y="114.5" font-size="6.7" fill="#000" stroke="#000" stroke-width="0.2" opacity="0.47" text-anchor="middle">VA</text>
<text x="314.6" y="117.0" font-size="6.7" fill="#000" stroke="#000" stroke-width="0.2" opacity="0.47" text-anchor="middle">KY</text>
<text x="46.4" y="155.3" font-size="6.7" fill="#000" stroke="#000" stroke-width="0.2" opacity="0.47" text-anchor="middle">NM</text>
<text x="152.4" y="143.0" font-size="6.7" fill="#000" stroke="#000" stroke-width="0.2" opacity="0.47" text-anchor="middle">OK</text>
<text x="215.0" y="151.5" font-size="6.7" fill="#000" stroke="#000" stroke-width="0.2" opacity="0.47" text-anchor="middle">AR</text>
<text x="290.2" y="136.5" font-size="6.7" fill="#000" stroke="#000" stroke-width="0.2" opacity="0.47" text-anchor="middle">TN</text>
<text x="365.5" y="165.0" font-size="6.7" fill="#000" stroke="#000" stroke-width="0.2" opacity="0.47" text-anchor="middle">SC</text>
<text x="121.3" y="191.6" font-size="6.7" fill="#000" stroke="#000" stroke-width="0.2" opacity="0.47" text-anchor="middle">TX</text>
<text x="122.4" y="298.5" font-size="7.3" fill="#000" stroke="#000" stroke-width="0.2" opacity="0.47" text-anchor="middle">Mexico</text>
<text x="252.4" y="350.0" font-size="7.3" fill="#000" stroke="#000" stroke-width="0.2" opacity="0.47" text-anchor="middle">Mexico</text>
<text x="262.5" y="376.5" font-size="7.3" fill="#000" stroke="#000" stroke-width="0.2" opacity="0.47" text-anchor="middle">Belize</text>
<text x="361.0" y="312.5" font-size="7.3" fill="#000" stroke="#000" stroke-width="0.2" opacity="0.47" text-anchor="middle">Cuba</text>
<text x="403.0" y="373.6" font-size="7.3" fill="#000" stroke="#000" stroke-width="0.2" opacity="0.47" text-anchor="middle">Jamaica</text>
<text x="440.0" y="284.0" font-size="7.3" fill="#000" stroke="#000" stroke-width="0.2" opacity="0.47" text-anchor="middle">Bahamas</text>
<text x="465.0" y="352.0" font-size="7.3" fill="#000" stroke="#000" stroke-width="0.2" opacity="0.47" text-anchor="middle">Haiti</text>
<text x="491.0" y="352.0" font-size="7.3" fill="#000" stroke="#000" stroke-width="0.2" opacity="0.47" text-anchor="middle">Dominican</text>
<text x="499.0" y="360.5" font-size="7.3" fill="#000" stroke="#000" stroke-width="0.2" opacity="0.47" text-anchor="middle">Republic</text>
<text x="542.5" y="364.5" font-size="7.3" fill="#000" stroke="#000" stroke-width="0.2" opacity="0.47" text-anchor="middle">Puerto Rico</text>
<text x="568.5" y="191.8" font-size="7.3" fill="#000" stroke="#000" stroke-width="0.2" opacity="0.47" text-anchor="middle">Bermuda</text>
<text x="214.4" y="202.5" font-size="6.7" fill="#000" stroke="#000" stroke-width="0.2" opacity="0.47" text-anchor="middle">LA</text>
<text x="252.4" y="185.0" font-size="6.7" fill="#000" stroke="#000" stroke-width="0.2" opacity="0.47" text-anchor="middle">MS</text>
<text x="282.0" y="186.3" font-size="6.7" fill="#000" stroke="#000" stroke-width="0.2" opacity="0.47" text-anchor="middle">AL</text>
<text x="333.0" y="184.0" font-size="6.7" fill="#000" stroke="#000" stroke-width="0.2" opacity="0.47" text-anchor="middle">GA</text>
<line x1="273.6" y1="68.0" x2="273.6" y2="116.0" stroke="#fff" stroke-width="3"/><line x1="273.6" y1="68.0" x2="273.6" y2="116.0" stroke="#000" stroke-width="1.15"/>
<line x1="314.0" y1="89.0" x2="288.5" y2="122.0" stroke="#fff" stroke-width="3"/><line x1="314.0" y1="89.0" x2="288.5" y2="122.0" stroke="#000" stroke-width="1.15"/>
<line x1="347.0" y1="144.5" x2="313.5" y2="156.3" stroke="#fff" stroke-width="3"/><line x1="347.0" y1="144.5" x2="313.5" y2="156.3" stroke="#000" stroke-width="1.15"/>
<line x1="350.0" y1="222.0" x2="318.5" y2="220.0" stroke="#fff" stroke-width="3"/><line x1="350.0" y1="222.0" x2="318.5" y2="220.0" stroke="#000" stroke-width="1.15"/>
<line x1="268.0" y1="262.0" x2="294.8" y2="269.3" stroke="#fff" stroke-width="3"/><line x1="268.0" y1="262.0" x2="294.8" y2="269.3" stroke="#000" stroke-width="1.15"/>
<line x1="316.0" y1="321.5" x2="294.5" y2="317.6" stroke="#fff" stroke-width="3"/><line x1="316.0" y1="321.5" x2="294.5" y2="317.6" stroke="#000" stroke-width="1.15"/>
<circle cx="273.4" cy="120.6" r="4.9" fill="#fff" stroke="#000" stroke-width="1.2"/><text x="270.70" y="123.6" font-size="8.2" font-weight="bold" fill="#000" textLength="5.2" lengthAdjust="spacingAndGlyphs">D</text>
<circle cx="272.1" cy="125.6" r="4.9" fill="#fff" stroke="#000" stroke-width="1.2"/><text x="269.40" y="128.6" font-size="8.2" font-weight="bold" fill="#000" textLength="5.2" lengthAdjust="spacingAndGlyphs">D</text>
<circle cx="285.4" cy="125.6" r="4.9" fill="#fff" stroke="#000" stroke-width="1.2"/><text x="282.70" y="128.6" font-size="8.2" font-weight="bold" fill="#000" textLength="5.2" lengthAdjust="spacingAndGlyphs">D</text>
<circle cx="308.6" cy="157.6" r="5.85" fill="#000"/><text x="306.00" y="160.8" font-size="8.6" font-weight="bold" fill="#fff" textLength="5.2" lengthAdjust="spacingAndGlyphs">S</text>
<circle cx="313.5" cy="219.4" r="5.85" fill="#000"/><text x="310.35" y="222.6" font-size="8.6" font-weight="bold" fill="#fff" textLength="6.3" lengthAdjust="spacingAndGlyphs">M</text>
<circle cx="299.6" cy="270.6" r="5.85" fill="#000"/><text x="296.45" y="273.8" font-size="8.6" font-weight="bold" fill="#fff" textLength="6.3" lengthAdjust="spacingAndGlyphs">M</text>
<circle cx="291.0" cy="304.2" r="5.85" fill="#000"/><text x="288.20" y="307.3" font-size="8.6" font-weight="bold" fill="#fff" textLength="5.6" lengthAdjust="spacingAndGlyphs">H</text>
<path d="M287.3 313.1 L295.3 321.1 M295.3 313.1 L287.3 321.1" stroke="#000" stroke-width="2.5"/>
<text x="223.0" y="72.1" font-size="12" font-weight="bold" fill="#000" stroke="#fff" stroke-opacity="0.92" stroke-width="1.9" stroke-linejoin="round" paint-order="stroke" textLength="48.6" lengthAdjust="spacingAndGlyphs">7 AM Sat</text>
<text x="315.6" y="93.6" font-size="12" font-weight="bold" fill="#000" stroke="#fff" stroke-opacity="0.92" stroke-width="1.9" stroke-linejoin="round" paint-order="stroke" textLength="44.8" lengthAdjust="spacingAndGlyphs">7 PM Fri</text>
<text x="347.6" y="148.6" font-size="12" font-weight="bold" fill="#000" stroke="#fff" stroke-opacity="0.92" stroke-width="1.9" stroke-linejoin="round" paint-order="stroke" textLength="45.6" lengthAdjust="spacingAndGlyphs">7 AM Fri</text>
<text x="351.4" y="227.0" font-size="12" font-weight="bold" fill="#000" stroke="#fff" stroke-opacity="0.92" stroke-width="1.9" stroke-linejoin="round" paint-order="stroke" textLength="51.6" lengthAdjust="spacingAndGlyphs">7 PM Thu</text>
<text x="215.0" y="266.1" font-size="12" font-weight="bold" fill="#000" stroke="#fff" stroke-opacity="0.92" stroke-width="1.9" stroke-linejoin="round" paint-order="stroke" textLength="53.0" lengthAdjust="spacingAndGlyphs">7 AM Thu</text>
<text x="317.4" y="325.0" font-size="12" font-weight="bold" fill="#000" stroke="#fff" stroke-opacity="0.92" stroke-width="1.9" stroke-linejoin="round" paint-order="stroke" textLength="54.0" lengthAdjust="spacingAndGlyphs">1 PM Wed</text>
<text x="12.5" y="80.8" font-size="12" font-weight="bold" fill="#000">40N</text>
<text x="12.5" y="152.6" font-size="12" font-weight="bold" fill="#000">35N</text>
<text x="12.5" y="219.6" font-size="12" font-weight="bold" fill="#000">30N</text>
<text x="12.5" y="283.6" font-size="12" font-weight="bold" fill="#000">25N</text>
<text x="12.5" y="344.8" font-size="12" font-weight="bold" fill="#000">20N</text>
<text x="58.7" y="384.9" font-size="12.1" font-weight="bold" fill="#000" text-anchor="middle">105W</text>
<text x="121.2" y="384.9" font-size="12.1" font-weight="bold" fill="#000" text-anchor="middle">100W</text>
<text x="183.6" y="384.9" font-size="12.1" font-weight="bold" fill="#000" text-anchor="middle">95W</text>
<text x="246.1" y="384.9" font-size="12.1" font-weight="bold" fill="#000" text-anchor="middle">90W</text>
<text x="308.6" y="384.9" font-size="12.1" font-weight="bold" fill="#000" text-anchor="middle">85W</text>
<text x="371.1" y="384.9" font-size="12.1" font-weight="bold" fill="#000" text-anchor="middle">80W</text>
<text x="433.6" y="384.9" font-size="12.1" font-weight="bold" fill="#000" text-anchor="middle">75W</text>
<text x="496.0" y="384.9" font-size="12.1" font-weight="bold" fill="#000" text-anchor="middle">70W</text>
<text x="558.5" y="384.9" font-size="12.1" font-weight="bold" fill="#000" text-anchor="middle">65W</text>
</g>

<rect x="83.5" y="11.3" width="446" height="29.4" fill="#000"/>
<text x="87.2" y="23.9" font-size="11.6" font-weight="bold" fill="#fff" textLength="436.4" lengthAdjust="spacingAndGlyphs">Note: The cone contains the probable path of the storm center but does not show</text>
<text x="103" y="36.9" font-size="11.6" font-weight="bold" fill="#fff" textLength="399.6" lengthAdjust="spacingAndGlyphs">the size of the storm. Hazardous conditions can occur outside of the cone.</text>
<g transform="translate(33.9,33.9)">
<circle r="20.3" fill="#fff"/>
<circle r="18.7" fill="none" stroke="#3b4ab0" stroke-width="1.7" stroke-dasharray="0.75 0.55" stroke-opacity="0.85"/>
<circle r="17.1" fill="#0b97e8"/>
<path d="M-13.6 -9.6 C-10 -5.5 -6 1 -2 2.7 C0 3.3 2 3 4 1.8 C8 -0.5 11.5 -5 14.4 -9.6 A17.1 17.1 0 0 0 -13.6 -9.6Z" fill="#0a0a80"/>
<path d="M-14 -9.9 C-10 -5.5 -6 1 -2 2.7 C0 3.3 2 3 4 1.8 C8 -0.5 11.5 -5 14.4 -9.6 L15.7 -6.9 C12 -2.5 8 2.5 3 4.2 L7.7 3.2 L7.9 3.9 C3 5.8 -2 6.6 -5.3 6.8 L-3.5 5.3 C-7 3.5 -10 -0.5 -13 -3.2 C-14.5 -4.5 -15.5 -5.1 -16.3 -5.2 Z" fill="#fff"/>
<text x="-7" y="-6.3" font-size="5.4" font-weight="bold" fill="#fff" textLength="14" lengthAdjust="spacingAndGlyphs">NOAA</text>
</g><g transform="translate(577.1,33.9)">
<circle r="20.2" fill="#fff"/>
<path id="nw1" d="M-7.90 12.16 A14.5 14.5 0 0 1 -11.73 -8.52" fill="none"/><text font-size="6" font-weight="bold" fill="#e8262b" stroke="#e8262b" stroke-width="0.35" textLength="23.5" lengthAdjust="spacingAndGlyphs"><textPath href="#nw1">NATIONAL</textPath></text>
<path id="nw2" d="M-8.73 -11.58 A14.5 14.5 0 0 1 11.11 -9.32" fill="none"/><text font-size="6" font-weight="bold" fill="#e8262b" stroke="#e8262b" stroke-width="0.35" textLength="22.0" lengthAdjust="spacingAndGlyphs"><textPath href="#nw2">WEATHER</textPath></text>
<path id="nw3" d="M13.03 -6.36 A14.5 14.5 0 0 1 8.52 11.73" fill="none"/><text font-size="6" font-weight="bold" fill="#e8262b" stroke="#e8262b" stroke-width="0.35" textLength="20.2" lengthAdjust="spacingAndGlyphs"><textPath href="#nw3">SERVICE</textPath></text>
<circle r="13.3" fill="#2aa8e2"/>
<path d="M-11 -7.5 L-7 -4 M-6 -11.5 L-4 -6 M0 -13 L0 -7 M6 -11.5 L4 -6 M11 -7.5 L7 -4" stroke="#1673bd" stroke-width="0.9" fill="none"/>
<ellipse cx="0" cy="7.2" rx="11.2" ry="3.6" fill="#fff"/>
<path d="M-9.5 10.2 C-4 12.2 4 12.2 9.5 10.2" stroke="#fff" stroke-width="0.9" fill="none"/>
<path d="M-13.7 2 C-14.8 -1 -12 -3.6 -9.5 -3.2 C-9 -6.4 -5 -7.8 -2.5 -6 C0 -8.4 5 -8.4 7 -5.6 C10 -6.5 13.2 -4.2 13 -1.5 C15.1 -0.5 14.8 3 12.2 3.5 C11.5 6 8 7.2 6 6.2 C4 8 -1 8 -3 6.6 C-6 8 -10 7.2 -10.5 5.2 C-12.6 5 -14.1 3.5 -13.7 2Z" fill="#00008b"/>
<path d="M-9.2 -11 L-1.2 -1.6 L-3 -1 L6.8 8.8 L0.8 1.2 L2.8 0.5 L-6.6 -10.8Z" fill="#fff"/>
<circle cx="-5.2" cy="16.6" r="0.9" fill="#5a5fd0"/><circle cx="0" cy="17.3" r="1.1" fill="#e8262b"/><circle cx="5.2" cy="16.6" r="0.9" fill="#5a5fd0"/>
</g>
<rect x="8.55" y="8.2" width="594.4" height="381.55" fill="none" stroke="#000" stroke-width="2.4"/>
<rect x="8.55" y="389.75" width="594.4" height="64.25" fill="#fff" stroke="#000" stroke-width="2.4"/>
<rect x="8.55" y="454.0" width="594.4" height="38.5" fill="#fff" stroke="#000" stroke-width="2.4"/>
<text x="13.2" y="406.9" font-size="14.3" font-weight="bold" fill="#000" textLength="116.6" lengthAdjust="spacingAndGlyphs">Hurricane Helene</text>
<text x="13.6" y="417.9" font-size="10.6" fill="#000" textLength="155.5" lengthAdjust="spacingAndGlyphs">Wednesday September 25, 2024</text>
<text x="13.6" y="431.1" font-size="10.6" fill="#000" textLength="171.4" lengthAdjust="spacingAndGlyphs">1 PM CDT Intermediate Advisory 9A</text>
<text x="13.2" y="444.2" font-size="10.6" fill="#000" textLength="151.2" lengthAdjust="spacingAndGlyphs">NWS National Hurricane Center</text>
<text x="214.4" y="406.2" font-size="14" font-weight="bold" fill="#000" textLength="139.0" lengthAdjust="spacingAndGlyphs">Current information:</text>
<path d="M358.3 399.4 L365.9 406 M365.9 399.4 L358.3 406" stroke="#000" stroke-width="2.3" fill="none"/>
<text x="214.4" y="419.0" font-size="10.6" fill="#000" textLength="142.5" lengthAdjust="spacingAndGlyphs">Center location 22.0 N 86.4 W</text>
<text x="214.4" y="431.1" font-size="10.6" fill="#000" textLength="158.6" lengthAdjust="spacingAndGlyphs">Maximum sustained wind 80 mph</text>
<text x="214.4" y="443.7" font-size="10.6" fill="#000" textLength="128.7" lengthAdjust="spacingAndGlyphs">Movement NNW at 10 mph</text>
<text x="396.3" y="405.0" font-size="14" font-weight="bold" fill="#000" textLength="130.3" lengthAdjust="spacingAndGlyphs">Forecast positions:</text>
<circle cx="402.9" cy="415.5" r="5.3" fill="#000"/>
<text x="410.4" y="418.3" font-size="10.6" fill="#000" textLength="78.8" lengthAdjust="spacingAndGlyphs">Tropical Cyclone</text>
<circle cx="504.8" cy="415.5" r="4.4" fill="#fff" stroke="#000" stroke-width="1.7"/>
<text x="513.6" y="418.3" font-size="10.6" fill="#000" textLength="82.6" lengthAdjust="spacingAndGlyphs">Post/Potential TC</text>
<text x="396.3" y="431.2" font-size="10.6" fill="#000" textLength="79.0" lengthAdjust="spacingAndGlyphs">Sustained winds:</text>
<text x="501.0" y="431.2" font-size="10.6" fill="#000" textLength="53.9" lengthAdjust="spacingAndGlyphs">D &lt; 39 mph</text>
<text x="396.3" y="443.9" font-size="10.6" fill="#000" textLength="202.5" lengthAdjust="spacingAndGlyphs" xml:space="preserve">S 39-73 mph&#160;&#160;H 74-110 mph&#160;&#160;M &gt; 110 mph</text>
<text x="13.0" y="470.3" font-size="14" font-weight="bold" fill="#000" textLength="124.2" lengthAdjust="spacingAndGlyphs">Potential track area:</text>
<path d="M36 473.4 C22 472.2 13.8 475.6 13.8 481.2 C13.8 486.9 22 490.2 36 489 C60 486.8 85 484.2 99.5 482.7 C102.8 482.3 102.8 479.9 99.5 479.6 C85 478.2 60 475.6 36 473.4Z" fill="#fff" stroke="#222" stroke-width="0.8"/>
<text x="108.6" y="486.1" font-size="10.6" fill="#000" textLength="32.7" lengthAdjust="spacingAndGlyphs">Day 1-5</text>
<text x="165.5" y="470.3" font-size="14" font-weight="bold" fill="#000" textLength="56.9" lengthAdjust="spacingAndGlyphs">Watches:</text>
<rect x="165.1" y="477.1" width="18.0" height="10.6" fill="#ffb6c1"/>
<text x="184.0" y="486.5" font-size="10.6" fill="#000" textLength="40.6" lengthAdjust="spacingAndGlyphs">Hurricane</text>
<rect x="227.7" y="477.1" width="18.9" height="10.6" fill="#ffff00"/>
<text x="247.8" y="486.5" font-size="10.6" fill="#000" textLength="38.4" lengthAdjust="spacingAndGlyphs">Trop Stm</text>
<text x="297.0" y="469.3" font-size="14" font-weight="bold" fill="#000" textLength="63.2" lengthAdjust="spacingAndGlyphs">Warnings:</text>
<rect x="296.6" y="477.1" width="17.6" height="10.6" fill="#ff0000"/>
<text x="315.0" y="486.5" font-size="10.6" fill="#000" textLength="40.7" lengthAdjust="spacingAndGlyphs">Hurricane</text>
<rect x="359.2" y="477.1" width="18.5" height="10.6" fill="#0000ff"/>
<text x="379.3" y="486.5" font-size="10.6" fill="#000" textLength="38.1" lengthAdjust="spacingAndGlyphs">Trop Stm</text>
<text x="430.0" y="470.0" font-size="14" font-weight="bold" fill="#000" textLength="170.9" lengthAdjust="spacingAndGlyphs">Current wind field estimate:</text>
<rect x="429.9" y="477.1" width="17.9" height="10.6" fill="#a5494f"/>
<text x="448.5" y="486.5" font-size="10.6" fill="#000" textLength="40.0" lengthAdjust="spacingAndGlyphs">Hurricane</text>
<rect x="492.8" y="477.1" width="17.3" height="10.6" fill="#ffb84d"/>
<text x="512.3" y="486.5" font-size="10.6" fill="#000" textLength="38.5" lengthAdjust="spacingAndGlyphs">Trop Stm</text>
</svg></body></html>
